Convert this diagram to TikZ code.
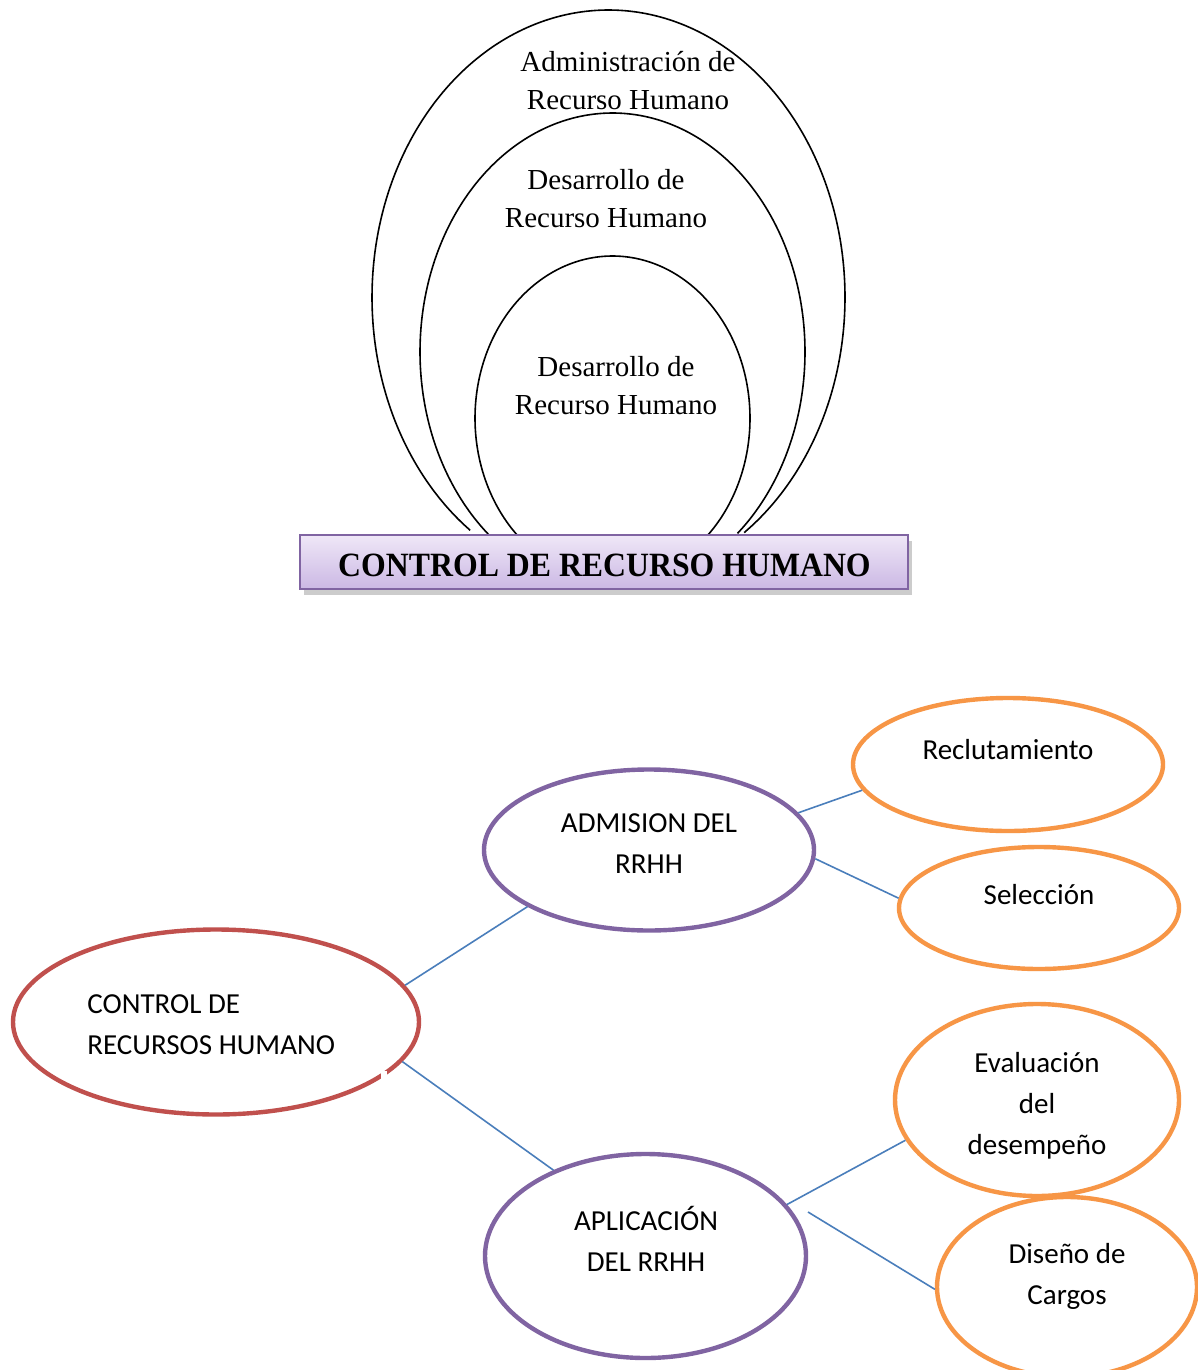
\documentclass[tikz,border=0pt]{standalone}
\usepackage{fontspec}
\setmainfont{Liberation Serif}
\newfontfamily\calfont{Carlito}
\usetikzlibrary{shapes.geometric,shadows}

\definecolor{rojo}{HTML}{C0504D}
\definecolor{morado}{HTML}{8064A2}
\definecolor{naranja}{HTML}{F79646}
\definecolor{azul}{HTML}{4A7EBB}
\definecolor{lilaA}{HTML}{EFE7F7}
\definecolor{lilaB}{HTML}{CBB8E4}

\tikzset{
  arco/.style={draw=black, line width=0.8pt},
  titulo/.style={font=\fontsize{14.5}{19}\selectfont, align=center, inner sep=0pt},
  elipse/.style={ellipse, draw=#1, line width=2.2pt, inner sep=0pt, fill=white},
  etiqueta/.style={font=\calfont\fontsize{14.5}{20.5}\selectfont, align=center, inner sep=0pt},
  conector/.style={draw=azul, line width=0.8pt},
}

\begin{document}
\begin{tikzpicture}[x=0.5pt, y=-0.5pt]
  \path[use as bounding box, fill=white] (0,0) rectangle (1198,1370);
  \clip (0,0) rectangle (1198,1370);

  % nested open arcs standing on the title box
  \draw[arco] plot[domain=-55:234.2, samples=120, smooth]
    ({608.5+236.5*cos(\x)}, {297.3-287.3*sin(\x)});
  \draw[arco] plot[domain=-49.5:230, samples=120, smooth]
    ({612.5+192.5*cos(\x)}, {351.8-238.8*sin(\x)});
  \draw[arco] plot[domain=-48.8:227.2, samples=120, smooth]
    ({612.5+137.5*cos(\x)}, {418.2-162.2*sin(\x)});

  \node[titulo] (t1) at (628,81) {Administración de\\Recurso Humano};
  \node[titulo] (t2) at (606,199) {Desarrollo de\\Recurso Humano};
  \node[titulo] (t3) at (616,386) {Desarrollo de\\Recurso Humano};

  % title box
  \node[rectangle, draw=morado, line width=0.8pt,
        top color=lilaA, bottom color=lilaB,
        minimum width=304pt, minimum height=27pt, inner sep=0pt,
        drop shadow={opacity=0.4, shadow xshift=2pt, shadow yshift=-3pt}]
    (ctrl) at (604,562) {};
  \node[inner sep=0pt] (ctrltxt) at (604.5,565)
    {\fontsize{17}{20}\selectfont\bfseries\scalebox{0.935}[1]{CONTROL DE RECURSO HUMANO}};

  % lower chart: ellipses
  \node[elipse=rojo, minimum width=203pt, minimum height=92.5pt] (raiz) at (216,1022) {};
  \node[elipse=morado, minimum width=165pt, minimum height=80.5pt] (adm) at (649,850) {};
  \node[elipse=morado, minimum width=160.5pt, minimum height=102pt] (apl) at (645.5,1256) {};
  \node[elipse=naranja, minimum width=155pt, minimum height=66.5pt] (recl) at (1008,764.5) {};
  \node[elipse=naranja, minimum width=140pt, minimum height=61pt] (sel) at (1039,908) {};
  \node[elipse=naranja, minimum width=142pt, minimum height=96pt] (eval) at (1037,1100) {};
  \node[elipse=naranja, minimum width=130pt, minimum height=90pt] (dis) at (1067,1287) {};

  % small break in the red outline
  \fill[white] (381,1071) rectangle (387,1079);

  % labels
  \node[etiqueta, align=left, anchor=west] (lraiz) at (87,1025) {CONTROL DE\\RECURSOS HUMANO};
  \node[etiqueta] (ladm) at (649,844) {ADMISION DEL\\RRHH};
  \node[etiqueta] (lapl) at (646,1239) {APLICACIÓN\\DEL RRHH};
  \node[etiqueta] (lrecl) at (1008,750) {Reclutamiento};
  \node[etiqueta] (lsel) at (1039,895) {Selección};
  \node[etiqueta] (leval) at (1037,1106) {Evaluación\\del\\desempeño};
  \node[etiqueta] (ldis) at (1067,1276.5) {Diseño de\\Cargos};

  % connectors
  \coordinate (dsal) at (808,1212);
  \draw[conector] (raiz.11.7) -- (adm.205.6);
  \draw[conector] (raiz.-12) -- (apl.137);
  \draw[conector] (adm.14.1) -- (recl.190.3);
  \draw[conector] (adm.-3.8) -- (sel.176.4);
  \draw[conector] (apl.20.4) -- (eval.197.9);
  \draw[conector] (dsal) -- (dis.181);
\end{tikzpicture}
\end{document}
